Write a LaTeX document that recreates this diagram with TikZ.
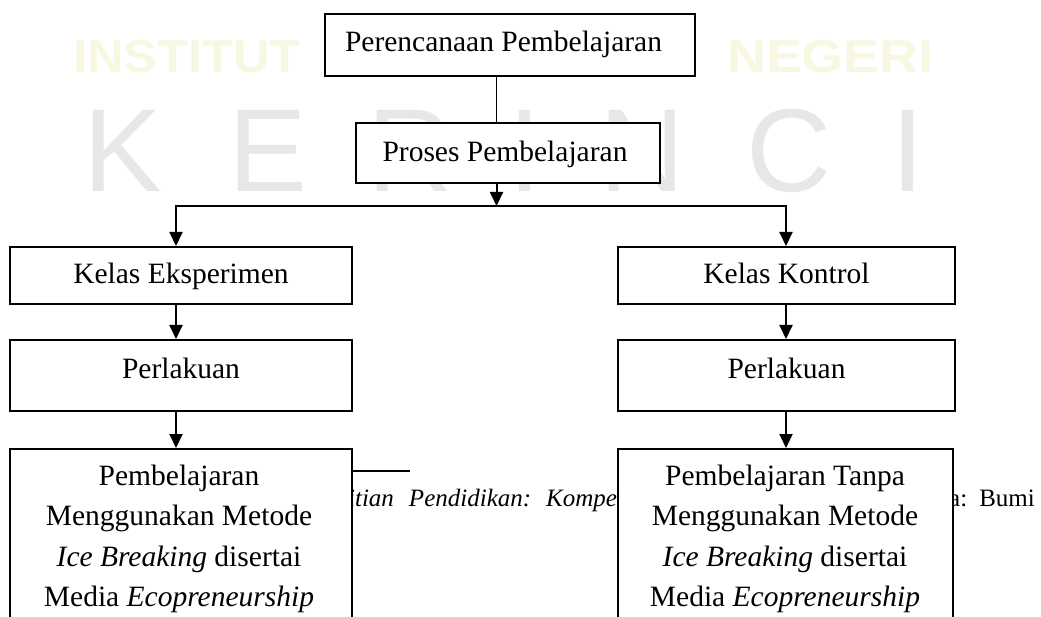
\documentclass[tikz,border=0pt]{standalone}
\usepackage{fontspec}
\setmainfont{Liberation Serif}
\newfontfamily\wmfont{Liberation Sans}
\usetikzlibrary{arrows.meta}
\definecolor{wmgray}{RGB}{229,232,229}
\definecolor{wmyellow}{RGB}{248,248,226}
\tikzset{
  box/.style={draw=black, line width=2pt, fill=white, inner sep=0pt, text height=20pt,
    font=\fontsize{29.5pt}{40.5pt}\selectfont},
  bodytext/.style={inner sep=0pt, align=center, font=\fontsize{29.5pt}{40.5pt}\selectfont},
  conn/.style={line width=1.6pt},
  arr/.style={line width=2pt, line join=miter, -{Triangle[width=13pt,length=14pt]}},
  wmletter/.style={inner sep=0pt, anchor=base, text=wmgray, font=\wmfont\fontsize{118pt}{118pt}\selectfont},
  wmline/.style={inner sep=0pt, anchor=base west, text=wmyellow, font=\wmfont\bfseries\fontsize{46pt}{46pt}\selectfont},
  note/.style={inner sep=0pt, font=\fontsize{25pt}{30pt}\selectfont},
}
\begin{document}
\begin{tikzpicture}[x=1pt,y=-1pt]
\clip (0,0) rectangle (1041,617);
\fill[white] (0,0) rectangle (1041,617);

% watermark
\node[wmline] (wmi) at (73,73) {\scalebox{1.1}[1]{INSTITUT}};
\node[wmline] (wmn) at (727,73) {\scalebox{1.17}[1]{NEGERI}};
\node[wmletter] (wk) at (123,192) {K};
\node[wmletter] (we) at (268,192) {E};
\node[wmletter] (wr) at (410,192) {R};
\node[wmletter] (wi) at (525,192) {I};
\node[wmletter] (wn) at (642,192) {N};
\node[wmletter] (wc) at (789,192) {C};
\node[wmletter] (wi2) at (908,192) {I};

% footnote fragments behind the boxes
\coordinate (fl) at (352,471);
\coordinate (fr) at (410,471);
\draw[line width=1.5pt] (fl) -- (fr);
\node[note, anchor=base west] (fn1) at (291,506)
  {\textit{Penelitian}\hspace{15pt}\textit{Pendidikan:}\hspace{15pt}\textit{Kompetensi}};
\node[note, anchor=base east] (fn2) at (1035,506) {Jakarta:\hspace{12pt}Bumi};

% boxes
\node[box, minimum width=370pt, minimum height=62pt, text depth=6pt] (b1) at (510,45)
  {Perencanaan Pembelajaran\hspace*{13pt}};
\node[box, minimum width=304pt, minimum height=60pt, text depth=2.6pt] (b2) at (508,153)
  {Proses Pembelajaran\hspace*{6pt}};
\node[box, minimum width=342pt, minimum height=57pt, text depth=3pt] (b3) at (181,275.5)
  {Kelas Eksperimen};
\node[box, minimum width=342pt, minimum height=71pt, text depth=15pt] (b4) at (181,375.5)
  {Perlakuan};
\node[box, anchor=north, minimum width=342pt, minimum height=250pt] (b5) at (181,448) {};
\node[bodytext, anchor=north] (t5) at (179,464.7)
  {Pembelajaran\\Menggunakan Metode\\\textit{Ice Breaking} disertai\\Media \textit{Ecopreneurship}};

\node[box, minimum width=337pt, minimum height=57pt, text depth=3pt] (b6) at (786.5,275.5)
  {Kelas Kontrol};
\node[box, minimum width=337pt, minimum height=71pt, text depth=15pt] (b7) at (786.5,375.5)
  {Perlakuan};
\node[box, anchor=north, minimum width=335pt, minimum height=250pt] (b8) at (785.5,448) {};
\node[bodytext, anchor=north] (t8) at (785,464.7)
  {Pembelajaran Tanpa\\Menggunakan Metode\\\textit{Ice Breaking} disertai\\Media \textit{Ecopreneurship}};

% connectors
\coordinate (sx) at (496.5,0);
\coordinate (j) at (496.5,206);
\coordinate (jl) at (176,206);
\coordinate (jr) at (786,206);
\draw[conn] (b1.south -| sx) -- (b2.north -| sx);
\draw[arr] (b2.south -| sx) -- (j);
\draw[arr] (j) -- (jl) -- (jl |- b3.north);
\draw[arr] (j) -- (jr) -- (jr |- b6.north);
\draw[arr] (b3.south -| jl) -- (b4.north -| jl);
\draw[arr] (b4.south -| jl) -- (b5.north -| jl);
\draw[arr] (b6.south -| jr) -- (b7.north -| jr);
\draw[arr] (b7.south -| jr) -- (b8.north -| jr);
\end{tikzpicture}
\end{document}
